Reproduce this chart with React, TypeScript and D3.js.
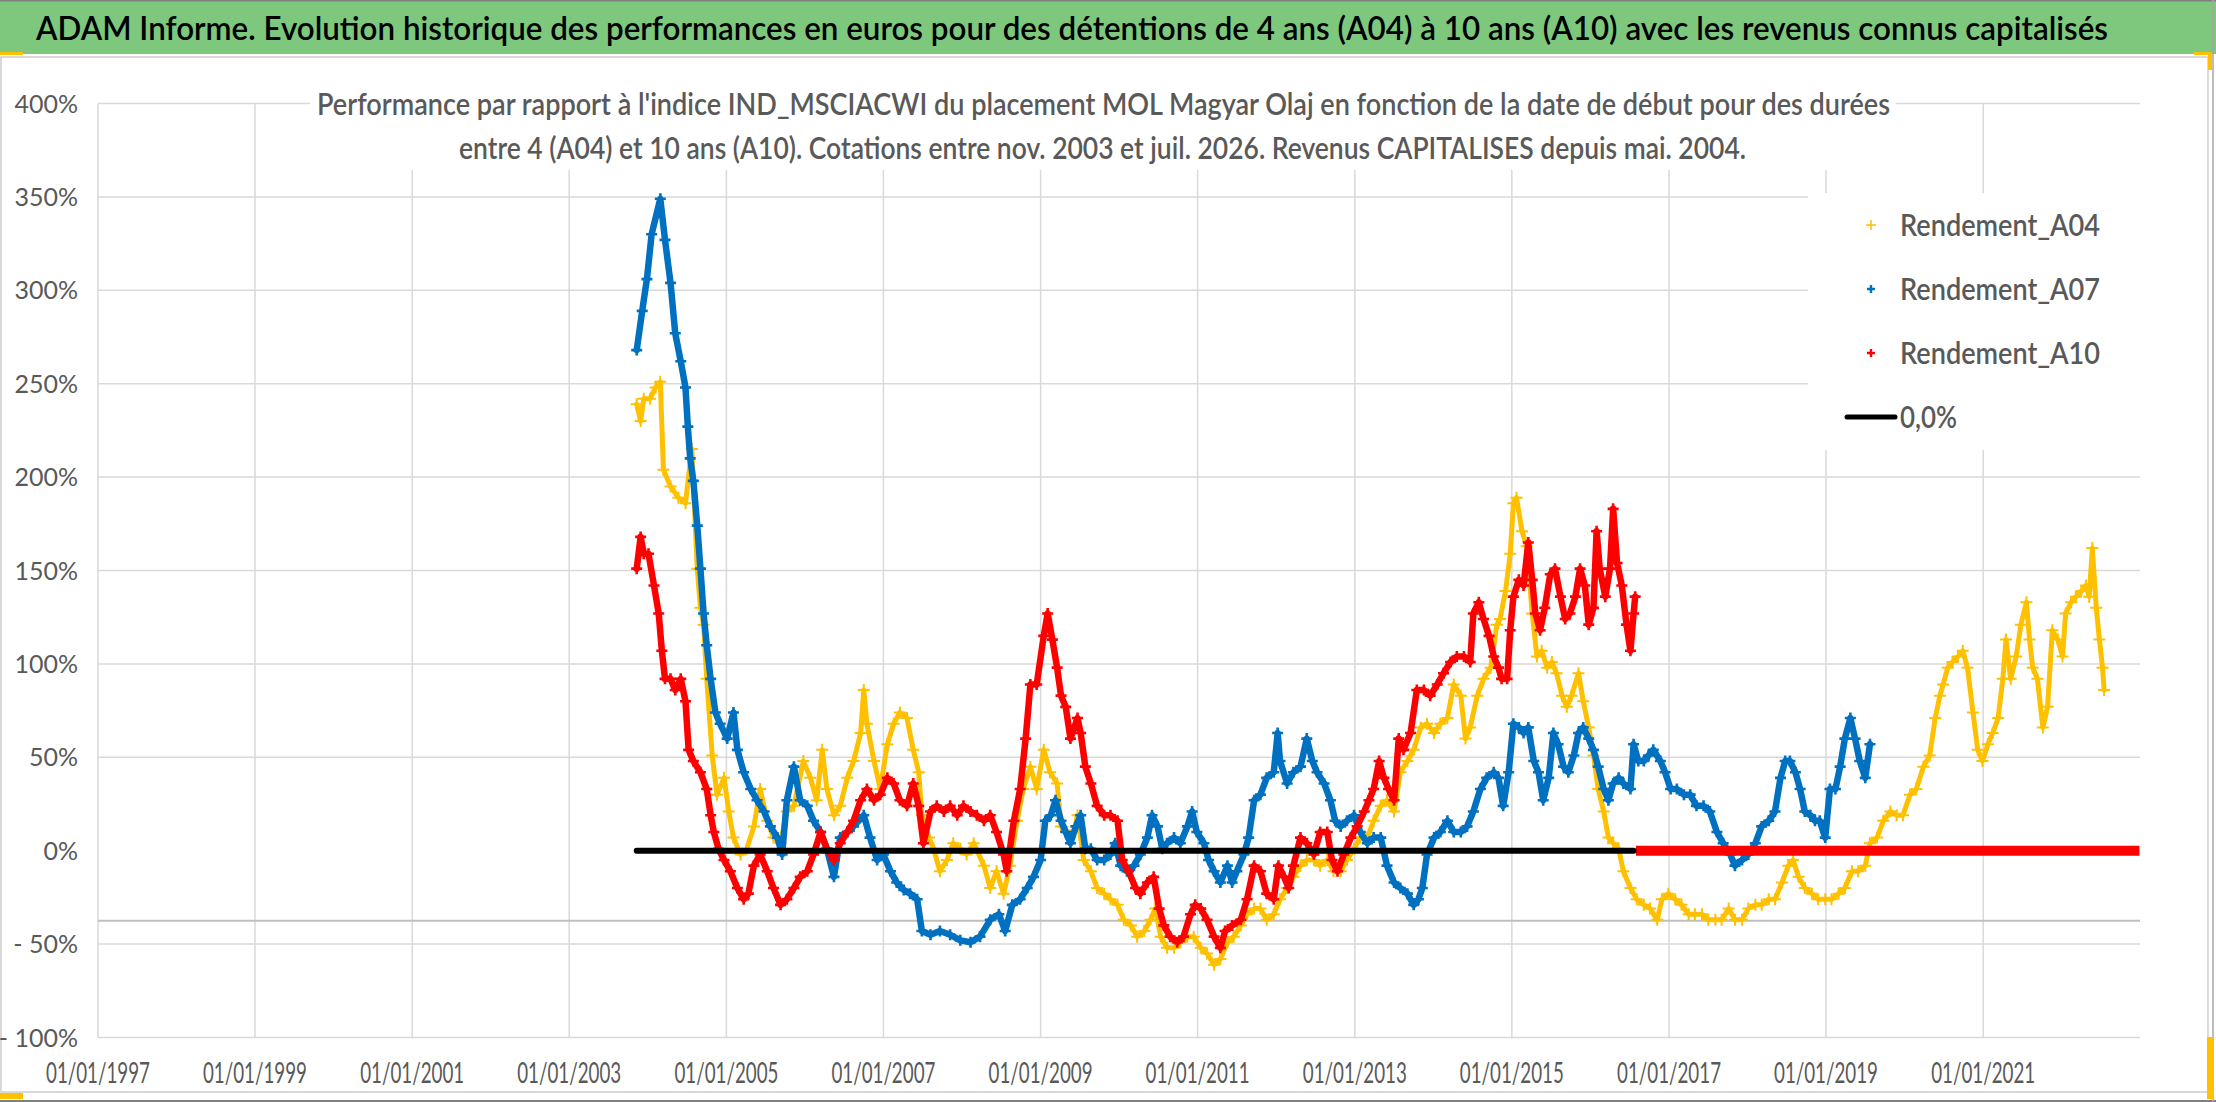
import { useEffect } from 'react';
import * as d3 from 'd3';

// decimal year + value (%)
const rendementA04: [number, number][] = [
  [2003.86, 239], [2003.91, 230], [2003.95, 242], [2004.03, 242], [2004.10, 248], [2004.16, 251], [2004.20, 204], [2004.29, 195],
  [2004.39, 189], [2004.48, 186], [2004.56, 215], [2004.63, 151], [2004.67, 130], [2004.71, 121], [2004.75, 92], [2004.82, 51],
  [2004.88, 30], [2004.97, 39], [2005.03, 21], [2005.09, 7], [2005.18, -2], [2005.26, 1], [2005.35, 13], [2005.43, 33],
  [2005.52, 16], [2005.60, 7], [2005.69, 4], [2005.77, 21], [2005.86, 24], [2005.98, 48], [2006.07, 39], [2006.15, 27],
  [2006.22, 54], [2006.28, 33], [2006.37, 19], [2006.45, 24], [2006.54, 39], [2006.62, 48], [2006.71, 63], [2006.75, 86],
  [2006.79, 68], [2006.88, 48], [2006.96, 33], [2007.05, 57], [2007.13, 68], [2007.21, 74], [2007.30, 71], [2007.38, 54],
  [2007.45, 42], [2007.49, 19], [2007.58, 7], [2007.64, 1], [2007.72, -11], [2007.81, -5], [2007.89, 4], [2007.98, 1],
  [2008.06, -2], [2008.15, 4], [2008.28, -8], [2008.36, -20], [2008.44, -11], [2008.53, -23], [2008.61, -8], [2008.70, 16],
  [2008.78, 33], [2008.87, 45], [2008.95, 33], [2009.04, 54], [2009.12, 42], [2009.21, 36], [2009.26, 13], [2009.34, 10],
  [2009.42, 10], [2009.47, 19], [2009.55, -5], [2009.64, -11], [2009.72, -20], [2009.81, -23], [2009.89, -26], [2009.98, -29],
  [2010.06, -37], [2010.15, -40], [2010.23, -46], [2010.32, -43], [2010.40, -37], [2010.46, -31], [2010.53, -46], [2010.61, -52],
  [2010.70, -52], [2010.78, -49], [2010.87, -46], [2010.95, -46], [2011.04, -52], [2011.12, -55], [2011.21, -61], [2011.29, -58],
  [2011.38, -49], [2011.46, -46], [2011.55, -40], [2011.63, -34], [2011.72, -31], [2011.80, -31], [2011.88, -37], [2011.97, -34],
  [2012.05, -26], [2012.14, -20], [2012.22, -14], [2012.31, -8], [2012.39, -5], [2012.48, -5], [2012.56, -8], [2012.65, -5],
  [2012.73, -11], [2012.82, -11], [2012.90, -5], [2012.99, 1], [2013.07, 7], [2013.16, 7], [2013.24, 16], [2013.33, 24],
  [2013.41, 27], [2013.50, 21], [2013.58, 42], [2013.67, 48], [2013.75, 54], [2013.84, 66], [2013.92, 68], [2014.01, 63],
  [2014.09, 68], [2014.18, 71], [2014.26, 89], [2014.35, 83], [2014.41, 60], [2014.47, 66], [2014.56, 83], [2014.64, 92],
  [2014.73, 98], [2014.81, 121], [2014.85, 124], [2014.92, 139], [2014.98, 159], [2015.02, 186], [2015.06, 189], [2015.13, 171],
  [2015.19, 163], [2015.26, 127], [2015.32, 104], [2015.38, 107], [2015.45, 98], [2015.51, 101], [2015.57, 95], [2015.64, 83],
  [2015.70, 77], [2015.76, 83], [2015.85, 95], [2015.91, 80], [2015.98, 66], [2016.04, 51], [2016.10, 33], [2016.17, 21],
  [2016.23, 7], [2016.29, 4], [2016.36, 1], [2016.42, -11], [2016.51, -20], [2016.59, -26], [2016.68, -29], [2016.76, -31],
  [2016.85, -37], [2016.91, -26], [2016.99, -23], [2017.08, -26], [2017.16, -29], [2017.25, -34], [2017.33, -34], [2017.42, -34],
  [2017.50, -37], [2017.59, -37], [2017.67, -37], [2017.76, -31], [2017.84, -37], [2017.93, -37], [2018.01, -31], [2018.10, -29],
  [2018.18, -29], [2018.27, -26], [2018.35, -26], [2018.44, -17], [2018.52, -8], [2018.58, -5], [2018.65, -14], [2018.73, -20],
  [2018.82, -23], [2018.90, -26], [2018.99, -26], [2019.07, -26], [2019.16, -23], [2019.24, -20], [2019.33, -11], [2019.41, -11],
  [2019.50, -8], [2019.56, 4], [2019.65, 7], [2019.73, 16], [2019.82, 21], [2019.90, 19], [2019.98, 19], [2020.07, 30],
  [2020.15, 33], [2020.24, 45], [2020.32, 51], [2020.39, 71], [2020.45, 83], [2020.49, 89], [2020.55, 98], [2020.61, 101],
  [2020.68, 104], [2020.74, 107], [2020.80, 98], [2020.87, 74], [2020.93, 54], [2020.99, 48], [2021.06, 57], [2021.12, 63],
  [2021.19, 71], [2021.25, 92], [2021.29, 113], [2021.35, 92], [2021.42, 104], [2021.48, 121], [2021.55, 133], [2021.59, 113],
  [2021.63, 98], [2021.69, 92], [2021.76, 66], [2021.82, 77], [2021.88, 118], [2021.95, 113], [2022.01, 104], [2022.05, 127],
  [2022.12, 133], [2022.18, 136], [2022.25, 139], [2022.31, 142], [2022.35, 136], [2022.39, 162], [2022.44, 130], [2022.48, 113],
  [2022.52, 98], [2022.54, 86],
];

const rendementA07: [number, number][] = [
  [2003.86, 268], [2003.93, 289], [2003.99, 306], [2004.05, 330], [2004.16, 349], [2004.22, 327], [2004.29, 304], [2004.35, 277],
  [2004.42, 262], [2004.48, 248], [2004.51, 227], [2004.54, 210], [2004.58, 198], [2004.63, 174], [2004.67, 151], [2004.71, 127],
  [2004.75, 110], [2004.80, 92], [2004.86, 74], [2004.92, 68], [2005.01, 60], [2005.09, 74], [2005.14, 54], [2005.22, 42],
  [2005.31, 33], [2005.39, 27], [2005.48, 21], [2005.56, 13], [2005.65, 7], [2005.71, -2], [2005.77, 27], [2005.86, 45],
  [2005.94, 27], [2006.03, 24], [2006.11, 16], [2006.20, 10], [2006.28, 1], [2006.37, -14], [2006.45, 7], [2006.54, 10],
  [2006.62, 13], [2006.75, 19], [2006.83, 7], [2006.92, -5], [2007.00, -2], [2007.09, -11], [2007.17, -17], [2007.26, -21],
  [2007.34, -23], [2007.43, -26], [2007.49, -43], [2007.60, -45], [2007.72, -43], [2007.85, -45], [2007.98, -48], [2008.11, -49],
  [2008.23, -46], [2008.36, -37], [2008.47, -34], [2008.55, -43], [2008.64, -29], [2008.74, -26], [2008.83, -20], [2008.91, -14],
  [2009.00, -5], [2009.06, 16], [2009.13, 19], [2009.19, 27], [2009.26, 16], [2009.32, 10], [2009.38, 4], [2009.45, 13],
  [2009.51, 19], [2009.57, 1], [2009.64, 1], [2009.72, -5], [2009.81, -5], [2009.89, -2], [2009.95, 4], [2010.02, -8],
  [2010.10, -11], [2010.19, -8], [2010.27, -2], [2010.36, 7], [2010.42, 19], [2010.49, 13], [2010.55, 1], [2010.61, 4],
  [2010.70, 7], [2010.78, 4], [2010.87, 13], [2010.93, 21], [2010.99, 10], [2011.08, 4], [2011.14, -5], [2011.21, -11],
  [2011.29, -17], [2011.38, -8], [2011.44, -17], [2011.50, -11], [2011.59, -2], [2011.65, 7], [2011.72, 27], [2011.80, 30],
  [2011.88, 39], [2011.97, 42], [2012.02, 63], [2012.05, 48], [2012.14, 36], [2012.22, 42], [2012.31, 45], [2012.39, 60],
  [2012.46, 48], [2012.52, 42], [2012.61, 36], [2012.69, 27], [2012.75, 16], [2012.82, 13], [2012.90, 16], [2012.99, 19],
  [2013.07, 10], [2013.16, 4], [2013.24, 7], [2013.33, 7], [2013.41, -8], [2013.50, -17], [2013.58, -20], [2013.67, -23],
  [2013.75, -29], [2013.81, -26], [2013.86, -20], [2013.92, -2], [2014.01, 7], [2014.09, 10], [2014.18, 16], [2014.26, 10],
  [2014.35, 10], [2014.43, 13], [2014.51, 21], [2014.60, 33], [2014.68, 39], [2014.77, 42], [2014.83, 39], [2014.89, 24],
  [2014.96, 42], [2015.02, 68], [2015.09, 66], [2015.15, 63], [2015.21, 66], [2015.28, 48], [2015.34, 42], [2015.40, 27],
  [2015.47, 39], [2015.53, 63], [2015.59, 57], [2015.66, 45], [2015.72, 42], [2015.79, 51], [2015.85, 63], [2015.91, 66],
  [2015.98, 60], [2016.04, 54], [2016.10, 45], [2016.17, 33], [2016.23, 27], [2016.29, 36], [2016.36, 39], [2016.42, 36],
  [2016.51, 33], [2016.55, 57], [2016.61, 48], [2016.68, 48], [2016.74, 51], [2016.80, 54], [2016.89, 48], [2016.95, 42],
  [2017.02, 33], [2017.10, 33], [2017.19, 30], [2017.27, 30], [2017.35, 24], [2017.44, 24], [2017.52, 21], [2017.61, 10],
  [2017.69, 4], [2017.78, -2], [2017.84, -8], [2017.93, -5], [2018.01, -2], [2018.10, 4], [2018.18, 13], [2018.27, 16],
  [2018.35, 21], [2018.42, 39], [2018.48, 48], [2018.54, 48], [2018.61, 42], [2018.67, 33], [2018.73, 21], [2018.80, 19],
  [2018.86, 16], [2018.92, 16], [2018.99, 7], [2019.05, 33], [2019.12, 33], [2019.18, 45], [2019.24, 60], [2019.31, 71],
  [2019.37, 60], [2019.43, 48], [2019.50, 39], [2019.56, 57],
];

const rendementA10: [number, number][] = [
  [2003.86, 151], [2003.91, 168], [2003.95, 159], [2004.01, 159], [2004.08, 142], [2004.14, 127], [2004.18, 107], [2004.22, 92],
  [2004.29, 92], [2004.35, 86], [2004.42, 92], [2004.48, 80], [2004.52, 54], [2004.58, 48], [2004.67, 42], [2004.75, 33],
  [2004.80, 19], [2004.84, 10], [2004.90, 1], [2004.97, -5], [2005.05, -11], [2005.14, -20], [2005.22, -26], [2005.28, -23],
  [2005.35, -8], [2005.43, -2], [2005.52, -11], [2005.60, -20], [2005.69, -29], [2005.77, -26], [2005.86, -20], [2005.94, -14],
  [2006.03, -11], [2006.11, -2], [2006.20, 10], [2006.28, 1], [2006.37, -5], [2006.45, 4], [2006.54, 10], [2006.62, 16],
  [2006.71, 27], [2006.79, 33], [2006.88, 27], [2006.96, 30], [2007.05, 39], [2007.13, 36], [2007.21, 27], [2007.30, 24],
  [2007.38, 36], [2007.45, 24], [2007.51, 4], [2007.60, 21], [2007.68, 24], [2007.77, 21], [2007.85, 24], [2007.94, 19],
  [2008.02, 24], [2008.11, 21], [2008.19, 19], [2008.28, 16], [2008.36, 19], [2008.44, 10], [2008.53, -2], [2008.57, -11],
  [2008.66, 16], [2008.74, 33], [2008.81, 60], [2008.87, 89], [2008.95, 89], [2009.04, 115], [2009.09, 127], [2009.15, 113],
  [2009.21, 98], [2009.26, 83], [2009.32, 77], [2009.38, 60], [2009.47, 71], [2009.51, 63], [2009.57, 45], [2009.64, 36],
  [2009.72, 24], [2009.81, 19], [2009.89, 19], [2009.98, 16], [2010.04, -5], [2010.12, -11], [2010.21, -20], [2010.27, -23],
  [2010.36, -17], [2010.44, -14], [2010.51, -31], [2010.57, -40], [2010.65, -46], [2010.74, -49], [2010.82, -46], [2010.91, -34],
  [2010.97, -29], [2011.04, -31], [2011.12, -37], [2011.21, -46], [2011.29, -52], [2011.35, -43], [2011.44, -40], [2011.55, -37],
  [2011.63, -26], [2011.72, -8], [2011.80, -11], [2011.88, -23], [2011.97, -26], [2012.03, -8], [2012.10, -14], [2012.16, -20],
  [2012.22, -8], [2012.31, 7], [2012.39, 4], [2012.48, -2], [2012.56, 10], [2012.65, 10], [2012.71, -5], [2012.78, -11],
  [2012.86, -2], [2012.95, 7], [2013.03, 13], [2013.12, 21], [2013.18, 27], [2013.24, 33], [2013.31, 48], [2013.37, 39],
  [2013.43, 33], [2013.50, 27], [2013.56, 60], [2013.62, 54], [2013.71, 63], [2013.79, 86], [2013.88, 86], [2013.96, 83],
  [2014.05, 89], [2014.13, 95], [2014.22, 101], [2014.30, 104], [2014.39, 104], [2014.47, 101], [2014.51, 127], [2014.58, 133],
  [2014.64, 124], [2014.71, 115], [2014.77, 104], [2014.83, 98], [2014.87, 92], [2014.94, 92], [2014.98, 118], [2015.02, 136],
  [2015.09, 145], [2015.15, 142], [2015.21, 165], [2015.26, 145], [2015.30, 127], [2015.36, 118], [2015.42, 130], [2015.49, 148],
  [2015.55, 151], [2015.62, 136], [2015.68, 124], [2015.74, 127], [2015.81, 136], [2015.87, 151], [2015.93, 142], [2015.98, 121],
  [2016.04, 130], [2016.08, 171], [2016.12, 151], [2016.19, 136], [2016.25, 151], [2016.29, 183], [2016.34, 154], [2016.40, 142],
  [2016.46, 121], [2016.51, 107], [2016.55, 127], [2016.57, 136],
];

// A10 is reported as 0 after its last known value, and the 0,0% reference line
const a10ZeroSpan = [2016.58, 2022.99];
const zeroLineSpan = [2003.86, 2016.55];

const yTicks = [400, 350, 300, 250, 200, 150, 100, 50, 0, -50, -100];
const yGrid = [400, 350, 300, 250, 200, 150, 100, 50, -50, -100];
const crossLine = -37.5;

const title =
  'ADAM Informe. Evolution historique des performances en euros pour des détentions de 4 ans (A04) à 10 ans (A10) avec les revenus connus capitalisés';
const subtitle1 =
  "Performance par rapport à l'indice IND_MSCIACWI  du placement MOL Magyar Olaj en fonction de la date de début pour des durées";
const subtitle2 =
  'entre 4 (A04) et 10 ans (A10). Cotations entre nov. 2003 et juil. 2026. Revenus CAPITALISES depuis mai. 2004.';

const legendItems = [
  { label: 'Rendement_A04', color: '#FFC000', kind: 'cross' },
  { label: 'Rendement_A07', color: '#0070C0', kind: 'cross' },
  { label: 'Rendement_A10', color: '#FF0000', kind: 'cross' },
  { label: '0,0%', color: '#000000', kind: 'line' },
];

const W = 2216;
const H = 1102;
const FONT = "Lato, 'Open Sans', sans-serif";
const GREY = '#595959';

function fromYear(v: number) {
  const yr = Math.floor(v);
  const a = new Date(yr, 0, 1).getTime();
  const b = new Date(yr + 1, 0, 1).getTime();
  return new Date(a + (v - yr) * (b - a));
}

const cross = (r: number) => `M${-r},0H${r}M0,${-r}V${r}`;

export default function App() {
  useEffect(() => {
    document.body.style.margin = '0';
  }, []);

  const x = d3.scaleTime().domain([new Date(1997, 0, 1), new Date(2022, 11, 31)]).range([98, 2140]);
  const y = d3.scaleLinear().domain([-100, 400]).range([1037.5, 103.5]);
  const xTicks = d3.timeYear.range(new Date(1997, 0, 1), new Date(2022, 0, 1), 2);
  const fmt = d3.timeFormat('%d/%m/%Y');
  const yFmt = (v: number) => (v < 0 ? `- ${-v}%` : `${v}%`);

  const line = d3
    .line<[number, number]>()
    .x((d) => x(fromYear(d[0])))
    .y((d) => y(d[1]));

  const series = [
    { data: rendementA04, color: '#FFC000', r: 6, sw: 2, lw: 5 },
    { data: rendementA07, color: '#0070C0', r: 5.5, sw: 2.6, lw: 6.5 },
    { data: rendementA10, color: '#FF0000', r: 5.5, sw: 2.6, lw: 6.5 },
  ];

  const [x0, x1] = x.range();

  return (
    <div style={{ position: 'absolute', left: 0, top: 0 }}>
      <svg width={W} height={H} style={{ display: 'block', background: '#fff' }}>
        {/* title bar */}
        <rect x={0} y={0} width={W} height={54} fill="#7ec87e" />
        <line x1={0} x2={W} y1={0.5} y2={0.5} stroke="#7f7f7f" strokeWidth={2} />
        <text
          x={36}
          y={40}
          fontFamily={FONT}
          fontSize={32}
          fontWeight={600}
          fill="#000"
          textLength={2072}
          lengthAdjust="spacingAndGlyphs"
        >
          {title}
        </text>

        {/* chart area */}
        <rect x={1} y={57} width={2207} height={1035} fill="#fff" stroke="#d9d9d9" strokeWidth={2} />
        <line x1={0} x2={W} y1={H - 1} y2={H - 1} stroke="#7f7f7f" strokeWidth={2} />
        <line x1={2213} x2={2213} y1={0} y2={H} stroke="#a6a6a6" strokeWidth={1.5} />
        <rect x={0} y={52} width={23} height={3} fill="#FFC000" />
        <rect x={2194} y={52} width={18} height={3} fill="#FFC000" />
        <rect x={2208} y={52} width={4} height={18} fill="#FFC000" />
        <rect x={0} y={1093} width={23} height={6} fill="#FFC000" />
        <rect x={2207} y={1037} width={7} height={62} fill="#FFC000" />

        {/* grid */}
        {yGrid.map((v) => (
          <line key={v} x1={x0} x2={x1} y1={y(v)} y2={y(v)} stroke="#d9d9d9" strokeWidth={1.5} />
        ))}
        {xTicks.map((d) => (
          <line key={+d} x1={x(d)} x2={x(d)} y1={y(400)} y2={y(-100)} stroke="#d9d9d9" strokeWidth={1.5} />
        ))}
        <line x1={x0} x2={x1} y1={y(crossLine)} y2={y(crossLine)} stroke="#bfbfbf" strokeWidth={2} />

        {/* y axis labels */}
        {yTicks.map((v) => (
          <text key={v} x={78} y={y(v)} dy="0.36em" textAnchor="end" fontFamily={FONT} fontSize={25} fill={GREY}>
            {yFmt(v)}
          </text>
        ))}
        {/* x axis labels */}
        {xTicks.map((d) => (
          <text
            key={+d}
            x={x(d) - 52}
            y={1083}
            fontFamily={FONT}
            fontSize={29}
            fill={GREY}
            textLength={104}
            lengthAdjust="spacingAndGlyphs"
          >
            {fmt(d)}
          </text>
        ))}

        {/* subtitle box */}
        <rect x={310} y={78} width={1586} height={92} fill="#fff" />
        <text
          x={317}
          y={115}
          fontFamily={FONT}
          fontSize={31}
          fontWeight={600}
          fill={GREY}
          textLength={1573}
          lengthAdjust="spacingAndGlyphs"
        >
          {subtitle1}
        </text>
        <text
          x={459}
          y={159}
          fontFamily={FONT}
          fontSize={31}
          fontWeight={600}
          fill={GREY}
          textLength={1287}
          lengthAdjust="spacingAndGlyphs"
        >
          {subtitle2}
        </text>

        {/* series */}
        {series.map((s) => (
          <g key={s.color}>
            <path
              d={line(s.data) || ''}
              fill="none"
              stroke={s.color}
              strokeWidth={s.lw}
              strokeLinejoin="round"
              strokeLinecap="round"
            />
            {s.data.map((d, i) => (
              <path
                key={i}
                transform={`translate(${x(fromYear(d[0]))},${y(d[1])})`}
                d={cross(s.r)}
                stroke={s.color}
                strokeWidth={s.sw}
              />
            ))}
          </g>
        ))}
        <line
          x1={x(fromYear(a10ZeroSpan[0]))}
          x2={x(fromYear(a10ZeroSpan[1]))}
          y1={y(0)}
          y2={y(0)}
          stroke="#FF0000"
          strokeWidth={10}
        />
        <line
          x1={x(fromYear(zeroLineSpan[0]))}
          x2={x(fromYear(zeroLineSpan[1]))}
          y1={y(0)}
          y2={y(0)}
          stroke="#000"
          strokeWidth={6}
          strokeLinecap="round"
        />

        {/* legend */}
        <rect x={1808} y={193} width={332} height={257} fill="#fff" />
        {legendItems.map((it, i) => {
          const cy = 225 + i * 64;
          return (
            <g key={it.label}>
              {it.kind === 'cross' ? (
                <path
                  transform={`translate(1871,${cy})`}
                  d={cross(i === 0 ? 5 : 4)}
                  stroke={it.color}
                  strokeWidth={i === 0 ? 1.5 : 2.4}
                />
              ) : (
                <line x1={1847} x2={1895} y1={cy} y2={cy} stroke="#000" strokeWidth={5} strokeLinecap="round" />
              )}
              <text
                x={1900}
                y={cy + 11}
                fontFamily={FONT}
                fontSize={31}
                fontWeight={600}
                fill={GREY}
                textLength={it.kind === 'cross' ? 200 : 57}
                lengthAdjust="spacingAndGlyphs"
              >
                {it.label}
              </text>
            </g>
          );
        })}
      </svg>
    </div>
  );
}
